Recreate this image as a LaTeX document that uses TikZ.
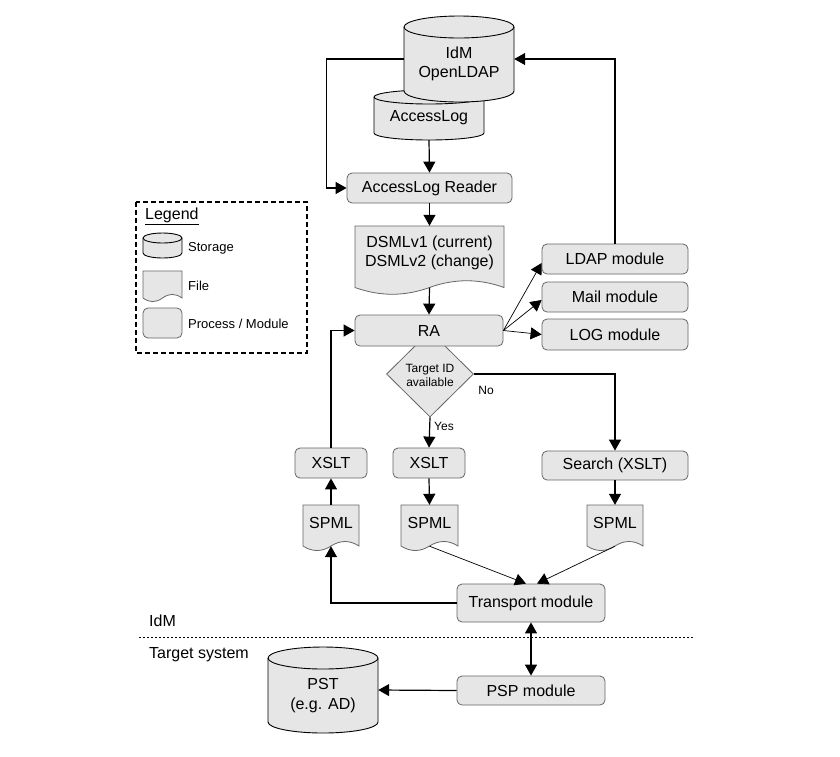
\documentclass[tikz,border=0pt]{standalone}
\usepackage{fontspec}
\setmainfont{Liberation Sans}
\usetikzlibrary{shapes.geometric,arrows.meta,calc}
\definecolor{boxfill}{HTML}{E6E6E6}
\definecolor{boxline}{HTML}{666666}
\tikzset{
  proc/.style={draw=boxline, fill=boxfill, rounded corners=5pt, inner sep=0pt, line width=0.8pt, font=\fontsize{16}{19}\selectfont},
  arr/.style={-{Triangle[length=11pt,width=12pt]}},
  conn/.style={arr, line width=1.2pt},
  thinconn/.style={arr, line width=0.7pt},
  docline/.style={draw=boxline, fill=boxfill, line width=0.8pt},
  cylline/.style={draw=black, fill=boxfill, line width=0.9pt},
  anchorbox/.style={inner sep=0pt, draw=none},
  txt/.style={font=\fontsize{16}{19}\selectfont, align=center, inner sep=0pt},
  smalltxt/.style={font=\fontsize{12}{14}\selectfont, align=center, inner sep=0pt},
  legtxt/.style={font=\fontsize{13}{15}\selectfont, anchor=west, inner sep=0pt},
}
% cylinder: x y w h rx ry
\newcommand\cyl[6]{%
  \filldraw[cylline] (#1,{#2+#6}) -- (#1,{#2+#4-#6})
    arc[start angle=180,end angle=360,x radius=#5,y radius=#6 pt]
    -- ({#1+#3},{#2+#6})
    arc[start angle=0,end angle=180,x radius=#5,y radius=#6 pt] -- cycle;
  \draw[cylline, fill=none] (#1,{#2+#6}) arc[start angle=180,end angle=360,x radius=#5,y radius=#6 pt];
}
% document: x y w h dy
\newcommand\docshape[5]{%
  \filldraw[docline] (#1,#2) -- ({#1+#3},#2) -- ({#1+#3},{#2+#4-#5/2})
    .. controls ({#1+5*#3/6},{#2+#4-1.1*#5}) and ({#1+2*#3/3},{#2+#4-1.1*#5}) .. ({#1+#3/2},{#2+#4-#5/2})
    .. controls ({#1+#3/3},{#2+#4+0.1*#5}) and ({#1+#3/6},{#2+#4+0.1*#5}) .. (#1,{#2+#4-#5/2}) -- cycle;
}
\begin{document}
\begin{tikzpicture}[x=1pt,y=-1pt]
\useasboundingbox (0,0) rectangle (840,756);
\fill[white] (0,0) rectangle (840,756);

% storages
\cyl{374}{90}{110}{50}{55pt}{7}
\node[anchorbox, minimum width=110pt, minimum height=50pt] (alog) at (429,115) {};
\node[txt] (alogt) at (429,118) {AccessLog};
\cyl{404}{16}{110}{86}{55pt}{11}
\node[anchorbox, minimum width=110pt, minimum height=86pt] (idm) at (459,59) {};
\node[txt] (idmt) at (459,64) {IdM\\OpenLDAP};

% reader
\node[proc, minimum width=165pt, minimum height=30pt] (reader) at (429.5,188) {AccessLog Reader};

% DSML
\docshape{355}{226}{149}{69}{15}
\node[anchorbox, minimum width=149pt, minimum height=61.5pt] (dsml) at (429.5,256.75) {};
\node[txt] (dsmlt) at (429.5,252.5) {DSMLv1 (current)\\DSMLv2 (change)};

% decision (under RA)
\node[diamond, draw=boxline, fill=boxfill, line width=0.8pt, minimum width=87pt, minimum height=86pt, inner sep=0pt] (dec) at (430,374) {};
\node[smalltxt] (dect) at (430,375) {Target ID\\available};

% RA and modules
\node[proc, minimum width=148pt, minimum height=31pt] (ra) at (429,330.5) {RA};
\node[proc, minimum width=146pt, minimum height=30pt] (ldap) at (615,259) {LDAP module};
\node[proc, minimum width=146pt, minimum height=30pt] (mail) at (615,297) {Mail module};
\node[proc, minimum width=146pt, minimum height=31pt] (log) at (615,334.5) {LOG module};

% XSLT row
\node[proc, minimum width=72pt, minimum height=30pt] (xsltL) at (331,463) {XSLT};
\node[proc, minimum width=72pt, minimum height=30pt] (xsltM) at (429,463) {XSLT};
\node[proc, minimum width=146pt, minimum height=29pt] (search) at (615,465.5) {Search (XSLT)};

% SPML files
\docshape{303}{505}{56}{46}{10}
\node[anchorbox, minimum width=56pt, minimum height=41pt] (spmlL) at (331,525.5) {};
\node[txt] (spmlLt) at (331,523) {SPML};
\docshape{401}{505}{57}{46}{10}
\node[anchorbox, minimum width=57pt, minimum height=41pt] (spmlM) at (429.5,525.5) {};
\node[txt] (spmlMt) at (429.5,523) {SPML};
\docshape{587}{505}{56}{46}{10}
\node[anchorbox, minimum width=56pt, minimum height=41pt] (spmlR) at (615,525.5) {};
\node[txt] (spmlRt) at (615,523) {SPML};

% transport / PSP / PST
\node[proc, minimum width=148pt, minimum height=38pt] (transport) at (531,603) {Transport module};
\node[proc, minimum width=148pt, minimum height=29pt] (psp) at (531,690.5) {PSP module};
\cyl{268}{647}{110}{86}{55pt}{11}
\node[anchorbox, minimum width=110pt, minimum height=86pt] (pst) at (323,690) {};
\node[txt, font=\fontsize{16}{20}\selectfont] (pstt) at (323,696) {PST\\(e.g. AD)};

% separator
\draw[line width=0.8pt, dash pattern=on 2pt off 2pt] (139,637) coordinate (sepa) -- (693,637) coordinate (sepb);
\node[txt, anchor=west] (idmlab) at (149,621) {IdM};
\node[txt, anchor=west] (tslab) at (149,655) {Target system};

% connectors
\draw[conn] (alog.south) -- (reader.north);
\draw[conn] (idm.west) -- ++(-77,0) |- (reader.west);
\draw[conn] (ldap.north) |- (idm.east);
\draw[conn] (reader.south) -- (dsml.north);
\draw[conn] (dsml.south) -- (ra.north);
\draw[thinconn] (ra.east) -- ([yshift=-4pt]ldap.west);
\draw[thinconn] (ra.east) -- ([yshift=-3pt]mail.west);
\draw[thinconn] (ra.east) -- (log.west);
\draw[conn] (dec.east) -| (search.north);
\node[smalltxt] (nolab) at (486,390) {No};
\draw[conn] (dec.south) -- (xsltM.north);
\node[smalltxt, anchor=west] (yeslab) at (434,426) {Yes};
\draw[conn] (xsltL.north) |- (ra.west);
\draw[conn] (xsltM.south) -- (spmlM.north);
\draw[conn] (search.south) -- (spmlR.north);
\draw[conn] (spmlL.north) -- (xsltL.south);
\draw[thinconn] (spmlM.south) -- ([xshift=-5pt]transport.north);
\draw[thinconn] (spmlR.south) -- ([xshift=6pt]transport.north);
\draw[conn] (transport.west) -| (spmlL.south);
\draw[{Triangle[length=11pt,width=12pt]}-{Triangle[length=11pt,width=12pt]}, line width=1.2pt] (transport.south) -- (psp.north);
\draw[conn] (psp.west) -- (pst.east);

% legend
\draw[line width=1.8pt, dash pattern=on 5pt off 3pt] (136,202) rectangle (307,353);
\node[txt, anchor=west] (legt) at (145,216) {\underline{Legend}};
\cyl{143}{233}{39}{25}{19.5pt}{5}
\node[legtxt] (l1) at (188,248) {Storage};
\docshape{143}{271}{39}{31}{8}
\node[legtxt] (l2) at (188,286) {File};
\node[proc, minimum width=39pt, minimum height=30pt] (l3box) at (162.5,323) {};
\node[legtxt] (l3) at (188,324) {Process / Module};
\end{tikzpicture}
\end{document}
